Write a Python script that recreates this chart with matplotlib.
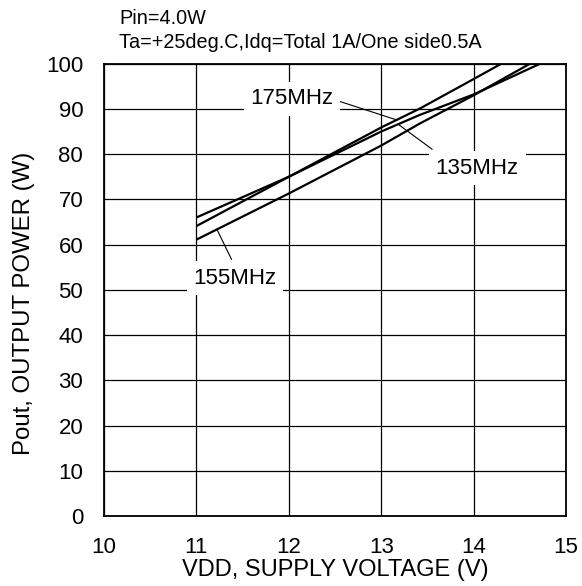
import matplotlib
matplotlib.use("Agg")
import matplotlib.pyplot as plt

plt.rcParams['font.family'] = ['Liberation Sans', 'DejaVu Sans']

# output power vs supply voltage
vdd_135 = [11, 12, 13, 13.42, 14, 14.72]
pout_135 = [66.0, 75.0, 85.0, 88.7, 93.2, 100]
vdd_155 = [11, 12, 13, 13.42, 14, 14.61]
pout_155 = [61.1, 71.3, 81.9, 86.8, 93.0, 100]
vdd_175 = [11, 12, 13, 13.42, 14, 14.30]
pout_175 = [64.1, 75.0, 85.9, 90.1, 96.6, 100]

xticks = [10, 11, 12, 13, 14, 15]
yticks = [0, 10, 20, 30, 40, 50, 60, 70, 80, 90, 100]

fig = plt.figure(figsize=(5.82, 5.86), dpi=100)
ax = fig.add_axes([104/582, 70/586, 462/582, 452.3/586])

for v, p in [(vdd_135, pout_135), (vdd_155, pout_155), (vdd_175, pout_175)]:
    ax.plot(v, p, color='black', lw=1.6, zorder=4, solid_capstyle='butt')

ax.set_xlim(10, 15)
ax.set_ylim(0, 100)
ax.set_xticks(xticks)
ax.set_yticks(yticks)
ax.grid(True, color='black', lw=0.9, zorder=1)
ax.set_axisbelow(True)
ax.tick_params(length=0, labelsize=16)
ax.tick_params(axis='x', pad=15)
ax.tick_params(axis='y', pad=15)
for s in ax.spines.values():
    s.set_linewidth(1.3)

ax.set_xlabel('VDD, SUPPLY VOLTAGE (V)', fontsize=17)
ax.xaxis.set_label_coords(0.5, -0.094)
ax.text(-0.173, 0.471, 'Pout, OUTPUT POWER (W)', transform=ax.transAxes,
        rotation=90, ha='center', va='center', fontsize=17.3)

fig.text(119.3/582, (586-24)/586, 'Pin=4.0W', fontsize=14.3, va='baseline')
fig.text(119.3/582, (586-47.7)/586, 'Ta=+25deg.C,Idq=Total 1A/One side0.5A',
         fontsize=14.3, va='baseline')

box = dict(boxstyle='square,pad=0.3', fc='white', ec='none')
labels = [('175MHz', 12.035, 92.2, [12.56, 13.17], [91.6, 87.55]),
          ('135MHz', 14.04, 76.9, [13.55, 13.185], [81.1, 86.6]),
          ('155MHz', 11.42, 52.6, [11.38, 11.226], [56.75, 63.2])]
for txt, x, y, lx, ly in labels:
    ax.text(x, y, txt, fontsize=16, ha='center', va='center', bbox=box, zorder=3)
    ax.plot(lx, ly, color='black', lw=0.8, zorder=3)

fig.savefig('out.png', dpi=100)
